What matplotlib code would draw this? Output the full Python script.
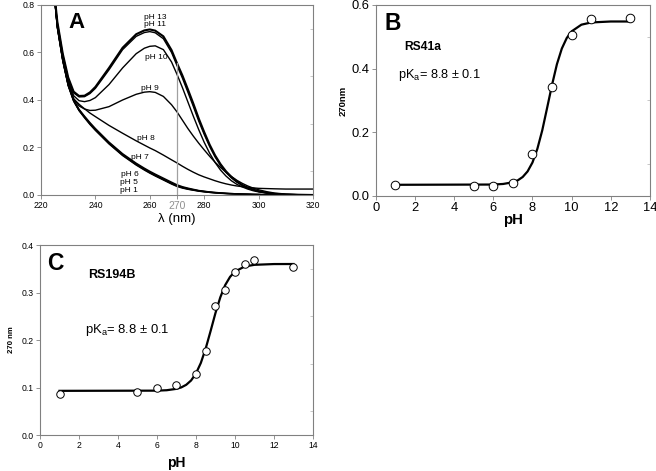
import matplotlib
matplotlib.use('Agg')
import matplotlib.pyplot as plt
from matplotlib.ticker import FixedLocator

plt.rcParams['font.family'] = ['Liberation Sans', 'DejaVu Sans']

# ---- panel A: UV spectra at several pH ----
wl = [224, 226, 228, 230, 232, 234, 236, 238, 240, 245, 250, 255, 258, 260,
      262, 265, 268, 270, 272, 274, 276, 278, 280, 282, 284, 286, 288, 290,
      292, 294, 296, 298, 300, 303, 306, 310, 315, 320]

abs_ph13 = [0.95, 0.73, 0.595, 0.495, 0.435, 0.417, 0.418, 0.432, 0.455, 0.535, 0.62, 0.677, 0.693, 0.697,
            0.692, 0.668, 0.61, 0.555, 0.503, 0.445, 0.385, 0.322, 0.265, 0.212, 0.167, 0.13, 0.1, 0.076,
            0.057, 0.042, 0.031, 0.023, 0.016, 0.009, 0.005, 0.002, 0.001, 0.0]
abs_ph11 = [0.95, 0.725, 0.59, 0.49, 0.43, 0.413, 0.414, 0.427, 0.449, 0.527, 0.612, 0.668, 0.684, 0.688,
            0.683, 0.658, 0.6, 0.545, 0.492, 0.433, 0.373, 0.311, 0.255, 0.204, 0.16, 0.124, 0.095, 0.072,
            0.054, 0.04, 0.029, 0.021, 0.015, 0.009, 0.005, 0.002, 0.001, 0.0]
abs_ph10 = [0.95, 0.72, 0.585, 0.482, 0.418, 0.397, 0.393, 0.398, 0.41, 0.465, 0.535, 0.595, 0.618, 0.626,
            0.628, 0.612, 0.56, 0.508, 0.452, 0.392, 0.332, 0.275, 0.222, 0.176, 0.137, 0.105, 0.08, 0.06,
            0.045, 0.034, 0.025, 0.018, 0.013, 0.008, 0.004, 0.002, 0.001, 0.0]
abs_ph9 = [0.95, 0.715, 0.578, 0.472, 0.405, 0.375, 0.362, 0.356, 0.357, 0.372, 0.4, 0.424, 0.433, 0.435,
           0.432, 0.415, 0.38, 0.35, 0.315, 0.28, 0.248, 0.218, 0.19, 0.163, 0.138, 0.116, 0.096, 0.078,
           0.062, 0.049, 0.038, 0.029, 0.022, 0.014, 0.008, 0.004, 0.001, 0.0]
abs_ph8 = [0.95, 0.71, 0.57, 0.465, 0.405, 0.382, 0.363, 0.345, 0.33, 0.293, 0.26, 0.228, 0.21, 0.198,
           0.187, 0.168, 0.148, 0.135, 0.121, 0.108, 0.096, 0.085, 0.076, 0.068, 0.06, 0.053, 0.047, 0.042,
           0.038, 0.035, 0.032, 0.03, 0.028, 0.027, 0.026, 0.025, 0.025, 0.025]
abs_ph7 = [0.95, 0.71, 0.57, 0.465, 0.4, 0.361, 0.332, 0.305, 0.28, 0.223, 0.174, 0.134, 0.113, 0.1,
           0.088, 0.071, 0.054, 0.043, 0.035, 0.029, 0.024, 0.019, 0.016, 0.013, 0.011, 0.009, 0.007, 0.006,
           0.005, 0.004, 0.003, 0.003, 0.002, 0.001, 0.001, 0.0, 0.0, 0.0]
abs_ph6 = [0.95, 0.708, 0.568, 0.463, 0.398, 0.358, 0.329, 0.301, 0.276, 0.219, 0.17, 0.13, 0.109, 0.096,
           0.084, 0.067, 0.05, 0.04, 0.032, 0.027, 0.022, 0.018, 0.015, 0.012, 0.01, 0.008, 0.007, 0.006,
           0.005, 0.004, 0.003, 0.002, 0.002, 0.001, 0.001, 0.0, 0.0, 0.0]
abs_ph5 = [0.95, 0.706, 0.566, 0.461, 0.396, 0.356, 0.327, 0.299, 0.274, 0.217, 0.168, 0.128, 0.107, 0.094,
           0.082, 0.065, 0.048, 0.038, 0.031, 0.025, 0.021, 0.017, 0.014, 0.011, 0.009, 0.008, 0.006, 0.005,
           0.004, 0.003, 0.003, 0.002, 0.002, 0.001, 0.001, 0.0, 0.0, 0.0]
abs_ph1 = [0.95, 0.705, 0.565, 0.46, 0.395, 0.355, 0.325, 0.297, 0.272, 0.215, 0.166, 0.126, 0.105, 0.092,
           0.08, 0.063, 0.046, 0.036, 0.029, 0.024, 0.02, 0.016, 0.013, 0.011, 0.009, 0.007, 0.006, 0.005,
           0.004, 0.003, 0.003, 0.002, 0.002, 0.001, 0.001, 0.0, 0.0, 0.0]

spectra = [abs_ph13, abs_ph11, abs_ph10, abs_ph9, abs_ph8, abs_ph7, abs_ph6, abs_ph5, abs_ph1]
spec_labels = ['pH 13', 'pH 11', 'pH 10', 'pH 9', 'pH 8', 'pH 7', 'pH 6', 'pH 5', 'pH 1']
label_x = [262, 262, 262.5, 260, 258.5, 256.5, 252.5, 252.5, 252.5]
label_y = [0.749, 0.716, 0.581, 0.45, 0.236, 0.156, 0.087, 0.053, 0.019]
read_wl = 270
read_abs = 0.555

# ---- panel B: RS41a titration ----
ph_b = [1, 5, 6, 7, 8, 9, 10, 11, 13]
a270_b = [0.0335, 0.032, 0.032, 0.041, 0.132, 0.343, 0.505, 0.556, 0.559]
fit_ph_b = [1, 6, 6.5, 7, 7.25, 7.5, 7.75, 8, 8.25, 8.5, 8.75, 9, 9.25, 9.5, 9.75, 10, 10.5, 11, 12, 13]
fit_b = [0.035, 0.0358, 0.0376, 0.043, 0.049, 0.0595, 0.077, 0.105, 0.148, 0.206, 0.277, 0.349,
         0.414, 0.463, 0.496, 0.517, 0.538, 0.545, 0.548, 0.548]

# ---- panel C: RS194B titration ----
ph_c = [1, 5, 6, 7, 8, 8.5, 9, 9.5, 10, 10.5, 11, 13]
a270_c = [0.0863, 0.0905, 0.099, 0.1046, 0.128, 0.177, 0.272, 0.305, 0.344, 0.359, 0.368, 0.354]
fit_ph_c = [1, 6, 6.5, 7, 7.25, 7.5, 7.75, 8, 8.25, 8.5, 8.75, 9, 9.25, 9.5, 9.75, 10, 10.5, 11, 12, 13]
fit_c = [0.093, 0.0934, 0.0943, 0.0972, 0.1003, 0.1057, 0.1148, 0.1296, 0.1517, 0.1822, 0.2188, 0.2567,
         0.29, 0.3157, 0.333, 0.3441, 0.3548, 0.3583, 0.3599, 0.36]

GREY = '#808080'


def style_axes(ax, size, minor_y):
    for s in ax.spines.values():
        s.set_color(GREY)
        s.set_linewidth(0.8)
    ax.tick_params(direction='out', length=3, width=0.6, color=GREY,
                   labelsize=size, pad=1.5)
    # small inward ticks on the right frame, between the major ones
    ax.yaxis.set_minor_locator(FixedLocator(minor_y))
    ax.tick_params(which='minor', left=False, right=True, direction='in',
                   length=2.5, width=0.5, color='#b0b0b0')


fig = plt.figure(figsize=(6.56, 4.71), dpi=100)

# panel A
axA = fig.add_axes([0.0625, 0.586, 0.4146, 0.4034])
for y, lab in zip(spectra, spec_labels):
    lw = 1.5 if lab == 'pH 13' else 1.0
    axA.plot(wl, y, color='black', lw=lw)
for lab, x, y in zip(spec_labels, label_x, label_y):
    axA.text(x, y, lab, fontsize=6, ha='center', va='center')
axA.plot([read_wl, read_wl], [0, read_abs], color='#a0a0a0', lw=0.9)
axA.set_xlim(220, 320)
axA.set_ylim(0, 0.8)
axA.set_xticks([220, 240, 260, 270, 280, 300, 320])
axA.set_yticks([0, 0.2, 0.4, 0.6, 0.8])
axA.set_yticklabels(['0.0', '0.2', '0.4', '0.6', '0.8'])
style_axes(axA, 6.2, [0.1, 0.3, 0.5, 0.7])
for t in axA.get_xticklabels():
    if t.get_text() == '270':
        t.set_color('#909090')
        t.set_fontsize(7.5)
axA.set_xlabel('λ (nm)', fontsize=9.5, labelpad=1)
axA.text(0.10, 0.965, 'A', transform=axA.transAxes, fontsize=16, fontweight='bold',
         ha='left', va='top')

# panel B
axB = fig.add_axes([0.573, 0.584, 0.4177, 0.4055])
axB.plot(fit_ph_b, fit_b, color='black', lw=1.6, zorder=2)
axB.plot(ph_b, a270_b, 'o', ms=6.2, mfc='white', mec='black', mew=0.7, zorder=3, clip_on=False)
axB.set_xlim(0, 14)
axB.set_ylim(0, 0.6)
axB.set_xticks(range(0, 15, 2))
axB.set_yticks([0, 0.2, 0.4, 0.6])
axB.set_yticklabels(['0.0', '0.2', '0.4', '0.6'])
style_axes(axB, 9.3, [0.1, 0.3, 0.5])
axB.set_xlabel('pH', fontsize=10.8, fontweight='bold', labelpad=-1)
axB.set_ylabel('270nm', fontsize=6.8, fontweight='bold', labelpad=3)
axB.text(0.033, 0.965, 'B', transform=axB.transAxes, fontsize=16.5, fontweight='bold',
         ha='left', va='top')
axB.text(1.45, 0.468, 'RS41a', fontsize=8.7, fontweight='bold', ha='left', va='center')
axB.text(1.12, 0.38, r'$\mathregular{pK_a}$= 8.8 ± 0.1', fontsize=9.2, ha='left', va='center')

# panel C
axC = fig.add_axes([0.061, 0.0764, 0.416, 0.4034])
axC.plot(fit_ph_c, fit_c, color='black', lw=1.6, zorder=2)
axC.plot(ph_c, a270_c, 'o', ms=5.4, mfc='white', mec='black', mew=0.7, zorder=3, clip_on=False)
axC.set_xlim(0, 14)
axC.set_ylim(0, 0.4)
axC.set_xticks(range(0, 15, 2))
axC.set_yticks([0, 0.1, 0.2, 0.3, 0.4])
axC.set_yticklabels(['0.0', '0.1', '0.2', '0.3', '0.4'])
style_axes(axC, 6.2, [0.05, 0.15, 0.25, 0.35])
axC.set_xlabel('pH', fontsize=10, fontweight='bold', labelpad=4)
axC.set_ylabel('270 nm', fontsize=5.6, fontweight='bold', labelpad=5)
axC.text(0.026, 0.965, 'C', transform=axC.transAxes, fontsize=16.5, fontweight='bold',
         ha='left', va='top')
axC.text(2.45, 0.337, 'RS194B', fontsize=9, fontweight='bold', ha='left', va='center')
axC.text(2.3, 0.221, r'$\mathregular{pK_a}$= 8.8 ± 0.1', fontsize=9.4, ha='left', va='center')

fig.savefig('out.png', dpi=100)
